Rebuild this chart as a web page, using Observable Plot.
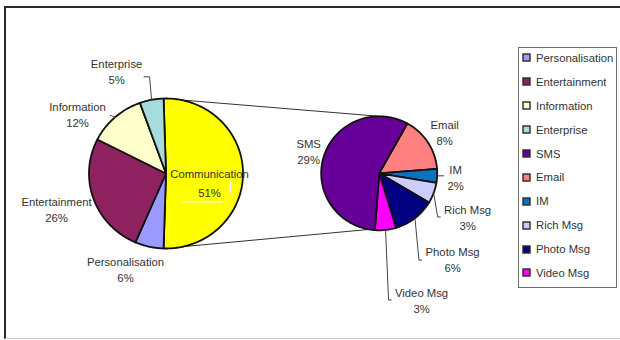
<!DOCTYPE html>
<html>
<head>
<meta charset="utf-8">
<script src="https://cdn.jsdelivr.net/npm/d3@7"></script>
<script src="https://cdn.jsdelivr.net/npm/@observablehq/plot@0.6"></script>
<style>
  html, body { margin: 0; padding: 0; background: #fff; overflow: hidden; }
  #wrap { position: relative; width: 620px; height: 340px; overflow: hidden; font-family: "Liberation Sans", Arial, sans-serif; }
  #frame { position: absolute; left: 4px; top: 6px; width: 640px; height: 333px; box-sizing: border-box;
           border-left: 2px solid #2b2b2b; border-top: 2px solid #2b2b2b; border-bottom: 1px solid #c9c9c9; }
  #chart { position: absolute; left: 0; top: 0; }
  #legend { position: absolute; left: 518px; top: 47px; width: 99px; height: 241px; box-sizing: border-box;
            border: 1px solid #6e6e6e; background: #fff; overflow: hidden; }
  #legend > div { margin: -2px 0 0 0; padding: 0 0 0 4px; font-family: "Liberation Sans", Arial, sans-serif;
                  font-size: 11.3px; color: #333; }
  #legend > div > div { height: 23.9px; padding: 0; display: flex; align-items: center; }
  #legend svg { margin-right: 6px; overflow: visible; }
  #legend rect { stroke: #2a2a2a; stroke-width: 1.4px; }
</style>
</head>
<body>
<div id="wrap">
  <div id="frame"></div>
  <div id="chart"></div>
  <div id="legend"></div>
</div>
<script>
// ---------- data ----------
const legendCategories = ["Personalisation", "Entertainment", "Information", "Enterprise", "SMS", "Email", "IM", "Rich Msg", "Photo Msg", "Video Msg"];
const mainCategories = ["Communication", "Personalisation", "Entertainment", "Information", "Enterprise"];
const mainValues = [51, 6, 26, 12, 5];
const subCategories = ["Email", "IM", "Rich Msg", "Photo Msg", "Video Msg", "SMS"];
const subValues = [8, 2, 3, 6, 3, 29];

// ---------- styles ----------
const colorDomain = ["Communication", ...legendCategories];
const colorRange = ["#ffff00", "#9999ff", "#8e2160", "#ffffcc", "#a6dcdc", "#660099", "#ff8080", "#0b72bd", "#ccccff", "#000080", "#ff00ff"];

// ---------- layout ----------
const PIE1 = {cx: 165.5, cy: 173, rx: 77, ry: 75, start: -1.8};
const PIE2 = {cx: 378.7, cy: 172.8, rx: 58, ry: 57, start: 29};
const connectorTargets = [0, 190]; // angles on second pie
const labelNudge = {
  "Communication": [-33.5, 7.5],
  "Personalisation": [-23.7, 22.3],
  "Entertainment": [-37, 9.6],
  "Information": [-37.6, -3.7],
  "Enterprise": [-35, -29],
  "SMS": [-15, -6.4],
  "Email": [16.6, -10.9],
  "IM": [18.4, 0.6],
  "Rich Msg": [33.9, 23.5],
  "Photo Msg": [37.6, 40.3],
  "Video Msg": [36, 70]
};
const leaderPath = {
  "Enterprise": [[0, 0], [-2, -23], [-8, -23]],
  "Information": [[0, 0], [-5, -2]],
  "IM": [[0, 0], [7, 0]],
  "Rich Msg": [[0, 0], [4, 24], [7, 24]],
  "Photo Msg": [[0, 0], [4, 42], [7, 42]],
  "Video Msg": [[0, 0], [3, 70], [6, 70]]
};

function pt(p, deg) {
  const a = deg * Math.PI / 180;
  return [p.cx + p.rx * Math.sin(a), p.cy - p.ry * Math.cos(a)];
}
function slices(p, cats, vals) {
  const total = d3.sum(vals);
  let a = p.start;
  return cats.map((c, i) => {
    const a0 = a, a1 = a + vals[i] / total * 360;
    a = a1;
    return {cat: c, value: vals[i], a0, a1, mid: (a0 + a1) / 2, pie: p};
  });
}
const s1 = slices(PIE1, mainCategories, mainValues);
const s2 = slices(PIE2, subCategories, subValues);
const all = [...s1, ...s2];

const polys = [];
for (const s of all) {
  polys.push({cat: s.cat, x: s.pie.cx, y: s.pie.cy});
  const n = Math.ceil(s.a1 - s.a0) + 1;
  for (let i = 0; i <= n; i++) {
    const [x, y] = pt(s.pie, s.a0 + (s.a1 - s.a0) * i / n);
    polys.push({cat: s.cat, x, y});
  }
}

const labels = all.map(s => {
  const [ex, ey] = pt(s.pie, s.mid);
  const [dx, dy] = labelNudge[s.cat];
  return {cat: s.cat, x: ex + dx, y: ey + dy, text: `${s.cat}\n${s.value}%`};
});

const leaders = [];
for (const s of all) {
  if (!leaderPath[s.cat]) continue;
  const [ex, ey] = pt(s.pie, s.mid);
  for (const [dx, dy] of leaderPath[s.cat]) leaders.push({id: s.cat, x: ex + dx, y: ey + dy});
}

const comm = s1[0];
const connectors = [];
[[comm.a0, connectorTargets[0]], [comm.a1, connectorTargets[1]]].forEach(([a, b], i) => {
  const [x1, y1] = pt(PIE1, a), [x2, y2] = pt(PIE2, b);
  connectors.push({id: i, x: x1, y: y1}, {id: i, x: x2, y: y2});
});

// white marks left inside the Communication label (as in the original)
const commLabel = labels[0];
const whiteMarks = [
  {id: "h", x: commLabel.x - 27, y: commLabel.y + 21}, {id: "h", x: commLabel.x + 13, y: commLabel.y + 21},
  {id: "v", x: commLabel.x + 21, y: commLabel.y - 0.5}, {id: "v", x: commLabel.x + 21, y: commLabel.y + 11.5}
];

const outer = labels.filter(d => d.cat !== "Communication");
const inner = labels.filter(d => d.cat === "Communication");

const chart = Plot.plot({
  width: 620,
  height: 340,
  margin: 0,
  x: {domain: [0, 620], range: [0, 620], axis: null},
  y: {domain: [0, 340], range: [0, 340], axis: null},
  color: {type: "ordinal", domain: colorDomain, range: colorRange},
  style: {background: "transparent", fontFamily: "'Liberation Sans', Arial, sans-serif", fontSize: "11.3px", overflow: "visible"},
  marks: [
    Plot.line(connectors, {x: "x", y: "y", z: "id", stroke: "#333", strokeWidth: 1}),
    Plot.line(polys, {x: "x", y: "y", z: "cat", fill: "cat", stroke: "#111", strokeWidth: 1.8, curve: "linear-closed"}),
    Plot.line(leaders, {x: "x", y: "y", z: "id", stroke: "#444", strokeWidth: 1, strokeLinecap: "butt", strokeLinejoin: "miter"}),
    Plot.line(whiteMarks, {x: "x", y: "y", z: "id", stroke: "#fff", strokeWidth: 1.2}),
    Plot.text(outer, {x: "x", y: "y", text: "text", fill: "#333", fontSize: 11.3, lineHeight: 1.42, textAnchor: "middle"}),
    Plot.text(inner, {x: "x", y: "y", text: "text", fill: "#333", fontSize: 11.3, lineHeight: 1.7, textAnchor: "middle"})
  ]
});
document.getElementById("chart").appendChild(chart);

const legend = Plot.legend({
  legend: "swatches",
  color: {type: "ordinal", domain: legendCategories, range: colorRange.slice(1)},
  columns: 1,
  swatchSize: 7
});
document.getElementById("legend").appendChild(legend);
</script>
</body>
</html>
